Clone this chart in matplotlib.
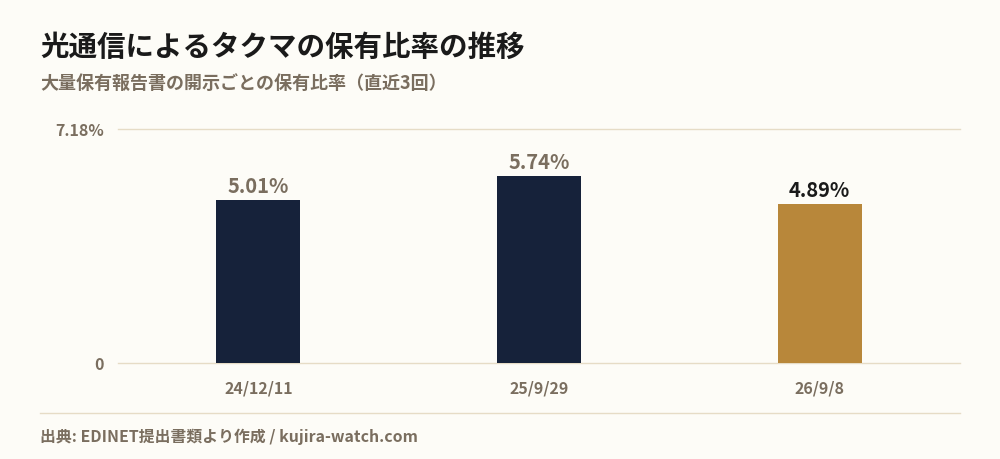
import matplotlib.pyplot as plt
from matplotlib.lines import Line2D

plt.rcParams['font.family'] = ['Noto Sans CJK JP', 'DejaVu Sans']

# データ
dates = ['24/12/11', '25/9/29', '26/9/8']
ratios = [5.01, 5.74, 4.89]
y_max = 7.18

bg = '#fdfcf7'
navy = '#16223a'
gold = '#b8873a'
grid_c = '#e6dcc6'
gray = '#7a6e5f'

fig = plt.figure(figsize=(10, 4.6), dpi=100, facecolor=bg)
ax = fig.add_axes([0.118, 1 - 364 / 460, 0.842, 234 / 460])
ax.set_facecolor(bg)

colors = [navy, navy, gold]
x = range(len(dates))
bars = ax.bar(x, ratios, width=0.3, color=colors, zorder=3)

for i, (b, v) in enumerate(zip(bars, ratios)):
    c = '#1a1a1a' if i == len(ratios) - 1 else gray
    ax.text(b.get_x() + b.get_width() / 2, v + 0.12, f'{v:.2f}%',
            ha='center', va='bottom', fontsize=14.5, fontweight='bold', color=c)

ax.set_xlim(-0.5, 2.5)
ax.set_ylim(0, y_max)
ax.set_yticks([0, y_max])
ax.set_yticklabels(['0', f'{y_max:.2f}%'])
ax.set_xticks(list(x))
ax.set_xticklabels(dates)
ax.yaxis.grid(True, color=grid_c, linewidth=1, zorder=0)
for gl in ax.get_ygridlines():
    gl.set_clip_on(False)
ax.tick_params(axis='both', length=0, colors=gray, labelsize=11.5)
ax.tick_params(axis='y', pad=10)
ax.tick_params(axis='x', pad=12)
for lbl in ax.get_xticklabels() + ax.get_yticklabels():
    lbl.set_fontweight('bold')
for s in ax.spines.values():
    s.set_visible(False)

# タイトル
fig.text(0.04, 1 - 48 / 460, '光通信によるタクマの保有比率の推移',
         fontsize=20.5, fontweight='bold', color='#1a1a1a', va='center')
fig.text(0.04, 1 - 83 / 460, '大量保有報告書の開示ごとの保有比率（直近3回）',
         fontsize=13, fontweight='bold', color=gray, va='center')

# 区切り線と出典
fig.add_artist(Line2D([0.04, 0.96], [1 - 414 / 460] * 2, color=grid_c,
                      linewidth=1, transform=fig.transFigure))
fig.text(0.04, 1 - 437 / 460, '出典: EDINET提出書類より作成 / kujira-watch.com',
         fontsize=11.4, fontweight='bold', color=gray, va='center')

fig.savefig('out.png', dpi=100, facecolor=bg)
